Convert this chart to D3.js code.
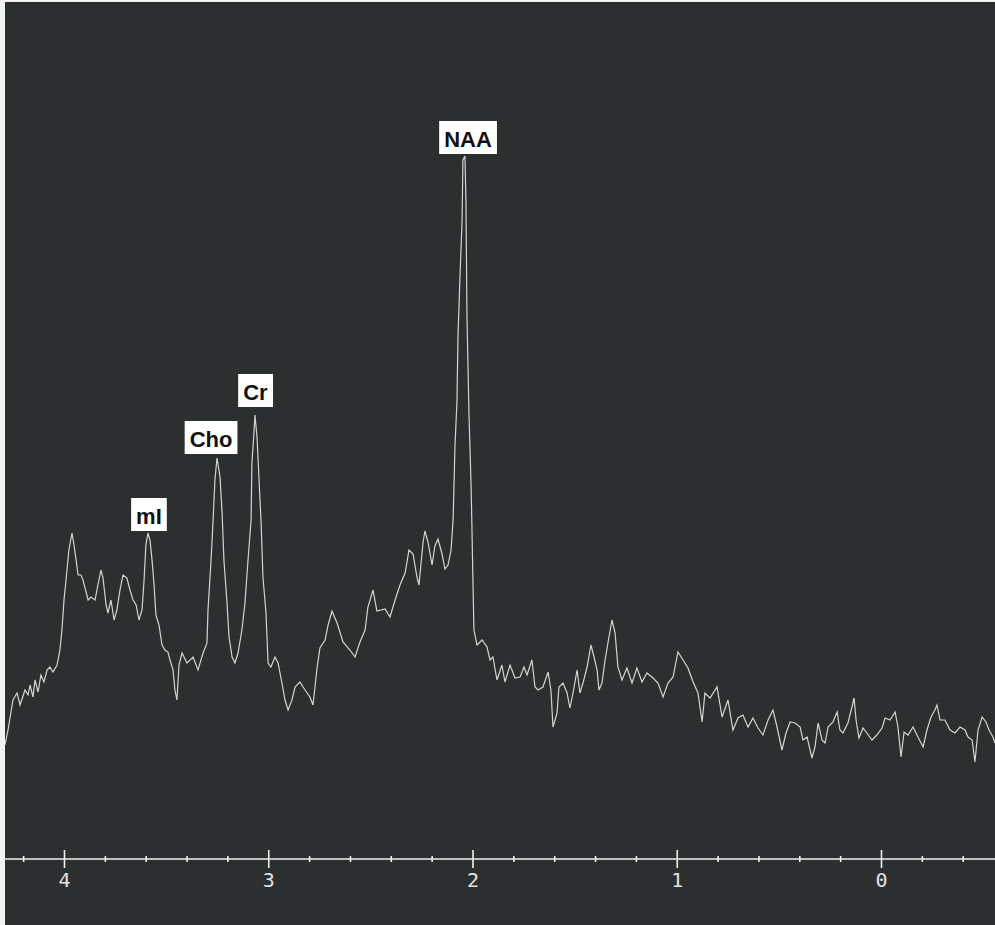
<!DOCTYPE html>
<html>
<head>
<meta charset="utf-8">
<script src="https://cdn.jsdelivr.net/npm/d3@7"></script>
<style>
  html, body { margin: 0; padding: 0; background: #f2f2f2; }
  svg { display: block; }
</style>
</head>
<body>
<div id="chart"></div>
<script>
// Chemical shift (ppm) of each sample of the MR spectrum
const ppm = [
  4.289,4.274,4.250,4.230,4.215,4.191,4.176,4.166,4.152,4.142,
  4.127,4.113,4.098,4.083,4.069,4.054,4.034,4.020,4.010,4.000,
  3.990,3.976,3.961,3.951,3.941,3.931,3.917,3.907,3.892,3.882,
  3.868,3.848,3.834,3.819,3.809,3.794,3.785,3.770,3.755,3.741,
  3.726,3.711,3.692,3.677,3.662,3.647,3.633,3.618,3.608,3.599,
  3.589,3.579,3.569,3.559,3.550,3.535,3.520,3.506,3.491,3.481,
  3.466,3.457,3.447,3.437,3.422,3.398,3.368,3.344,3.319,3.300,
  3.295,3.280,3.270,3.261,3.251,3.236,3.226,3.217,3.202,3.192,
  3.177,3.163,3.148,3.129,3.114,3.099,3.084,3.080,3.070,3.065,
  3.055,3.045,3.035,3.026,3.011,3.001,2.987,2.967,2.952,2.933,
  2.918,2.903,2.884,2.869,2.845,2.820,2.796,2.781,2.761,2.747,
  2.722,2.707,2.688,2.663,2.634,2.600,2.575,2.551,2.526,2.512,
  2.487,2.468,2.428,2.404,2.379,2.355,2.330,2.311,2.291,2.272,
  2.262,2.242,2.233,2.218,2.198,2.184,2.169,2.149,2.135,2.120,
  2.105,2.095,2.091,2.086,2.076,2.071,2.061,2.051,2.047,2.037,
  2.032,2.027,2.017,2.007,2.002,1.998,1.993,1.978,1.953,1.929,
  1.914,1.900,1.880,1.856,1.841,1.816,1.792,1.767,1.748,1.733,
  1.709,1.694,1.679,1.655,1.630,1.616,1.606,1.586,1.577,1.557,
  1.537,1.523,1.508,1.488,1.474,1.459,1.439,1.420,1.405,1.390,
  1.381,1.366,1.351,1.337,1.317,1.302,1.288,1.268,1.244,1.219,
  1.195,1.170,1.146,1.116,1.092,1.067,1.043,1.018,0.994,0.969,
  0.945,0.920,0.896,0.876,0.862,0.837,0.803,0.778,0.749,0.725,
  0.700,0.676,0.651,0.627,0.602,0.578,0.553,0.529,0.509,0.485,
  0.465,0.445,0.421,0.396,0.382,0.362,0.338,0.323,0.308,0.289,
  0.274,0.259,0.235,0.215,0.201,0.186,0.162,0.142,0.132,0.122,
  0.108,0.088,0.069,0.044,0.020,-0.005,-0.020,-0.044,-0.069,-0.083,
  -0.098,-0.113,-0.132,-0.157,-0.181,-0.206,-0.225,-0.245,-0.264,-0.274,
  -0.289,-0.313,-0.338,-0.362,-0.387,-0.411,-0.426,-0.446,-0.460,-0.475,
  -0.495,-0.514,-0.529,-0.548,-0.558
];

// Signal intensity (arbitrary units) at each ppm sample
const intensity = [
  114,129,159,166,154,169,164,174,162,179,
  167,184,177,189,192,187,194,209,229,259,
  279,309,326,314,299,284,284,279,267,259,
  262,259,274,289,281,254,246,259,239,249,
  269,284,281,269,259,254,239,249,279,314,
  326,319,299,274,244,234,214,209,207,199,
  189,169,159,194,206,196,202,189,206,216,
  249,299,339,379,401,382,346,299,256,222,
  202,196,206,229,256,299,339,396,426,444,
  422,379,336,282,246,196,192,202,196,176,
  159,149,159,172,177,169,162,154,191,211,
  219,234,248,236,217,209,202,217,229,252,
  269,248,250,242,259,274,286,309,305,282,
  274,317,328,317,294,313,320,305,290,294,
  309,339,370,412,458,523,584,638,699,703,
  657,542,443,374,324,279,229,214,219,212,
  199,202,179,194,177,194,181,182,192,184,
  199,172,169,172,187,169,132,146,172,176,
  166,151,166,189,166,176,192,214,202,189,
  169,176,199,216,239,226,192,179,191,176,
  191,177,186,181,176,162,176,182,207,199,
  191,177,166,137,166,161,172,142,159,129,
  141,144,132,141,131,124,139,149,132,109,
  126,137,136,132,119,122,101,112,136,119,
  116,132,137,147,129,126,136,152,161,139,
  121,131,126,119,124,131,141,139,147,132,
  102,127,124,132,122,112,129,142,149,154,
  139,139,129,126,132,129,122,119,97,129,
  142,137,129,122,116
];

// Metabolite peak labels
const peakNames = ["mI", "Cho", "Cr", "NAA"];
const peakPpm = [3.584, 3.280, 3.063, 2.022];
const peakLabelLevel = [328, 405, 452, 705];

// Axis ticks
const majorTicks = [4, 3, 2, 1, 0];
const minorTicks = [4.2, 3.8, 3.6, 3.4, 3.2, 2.8, 2.6, 2.4, 2.2, 1.8, 1.6, 1.4, 1.2, 0.8, 0.6, 0.4, 0.2, -0.2, -0.4];
const xDomain = [4.29, -0.56];

const W = 995, H = 925;
const svg = d3.select("#chart").append("svg").attr("width", W).attr("height", H);

// Dark plot background
svg.append("rect").attr("x", 5).attr("y", 2).attr("width", W - 5).attr("height", H - 2)
  .attr("fill", "#2b2f30");

const x = d3.scaleLinear().domain([4, 0]).range([64, 881]);
const y = d3.scaleLinear().domain([0, 859]).range([859, 0]);

const data = ppm.map((p, i) => ({ p, v: intensity[i] }));

const line = d3.line().x(d => x(d.p)).y(d => y(d.v)).curve(d3.curveLinear);

svg.append("path").datum(data)
  .attr("d", line)
  .attr("fill", "none")
  .attr("stroke", "#d4d4d4")
  .attr("stroke-width", 1.2)
  .attr("stroke-linejoin", "miter");

// Axis
const axisY = y(0);
const axisG = svg.append("g").attr("transform", `translate(0,${axisY})`);

axisG.append("line")
  .attr("x1", x(xDomain[0])).attr("x2", x(xDomain[1]))
  .attr("y1", 0).attr("y2", 0)
  .attr("stroke", "#f0f0f0").attr("stroke-width", 1.6);

const major = d3.axisBottom(x).tickValues(majorTicks).tickSize(9).tickFormat(d3.format("d"));
const majG = axisG.append("g").call(major);
majG.select(".domain").remove();
majG.selectAll(".tick line").attr("y1", -9).attr("y2", 9).attr("stroke", "#f0f0f0").attr("stroke-width", 1.6);
majG.selectAll(".tick text")
  .attr("y", 28).attr("dy", 0)
  .attr("fill", "#e2e2e2")
  .style("font-family", "'DejaVu Sans Mono', monospace")
  .style("font-size", "20px")
  .style("font-weight", "200");

const minor = d3.axisBottom(x).tickValues(minorTicks).tickSize(3).tickFormat("");
const minG = axisG.append("g").call(minor);
minG.select(".domain").remove();
minG.selectAll(".tick line").attr("y1", -3).attr("y2", 3).attr("stroke", "#f0f0f0").attr("stroke-width", 1.6);

// Peak labels
const labels = svg.append("g");
peakNames.forEach((name, i) => {
  const cx = x(peakPpm[i]);
  const bottom = y(peakLabelLevel[i]);
  const g = labels.append("g");
  const t = g.append("text")
    .attr("x", cx).attr("y", bottom - 7)
    .attr("text-anchor", "middle")
    .attr("fill", "#111")
    .style("font-family", "'Liberation Sans', Arial, sans-serif")
    .style("font-weight", "bold")
    .style("font-size", "22px")
    .text(name);
  const bb = t.node().getBBox();
  const padX = 5;
  g.insert("rect", "text")
    .attr("x", bb.x - padX).attr("y", bottom - 33)
    .attr("width", bb.width + 2 * padX).attr("height", 33)
    .attr("fill", "#ffffff");
});
</script>
</body>
</html>
